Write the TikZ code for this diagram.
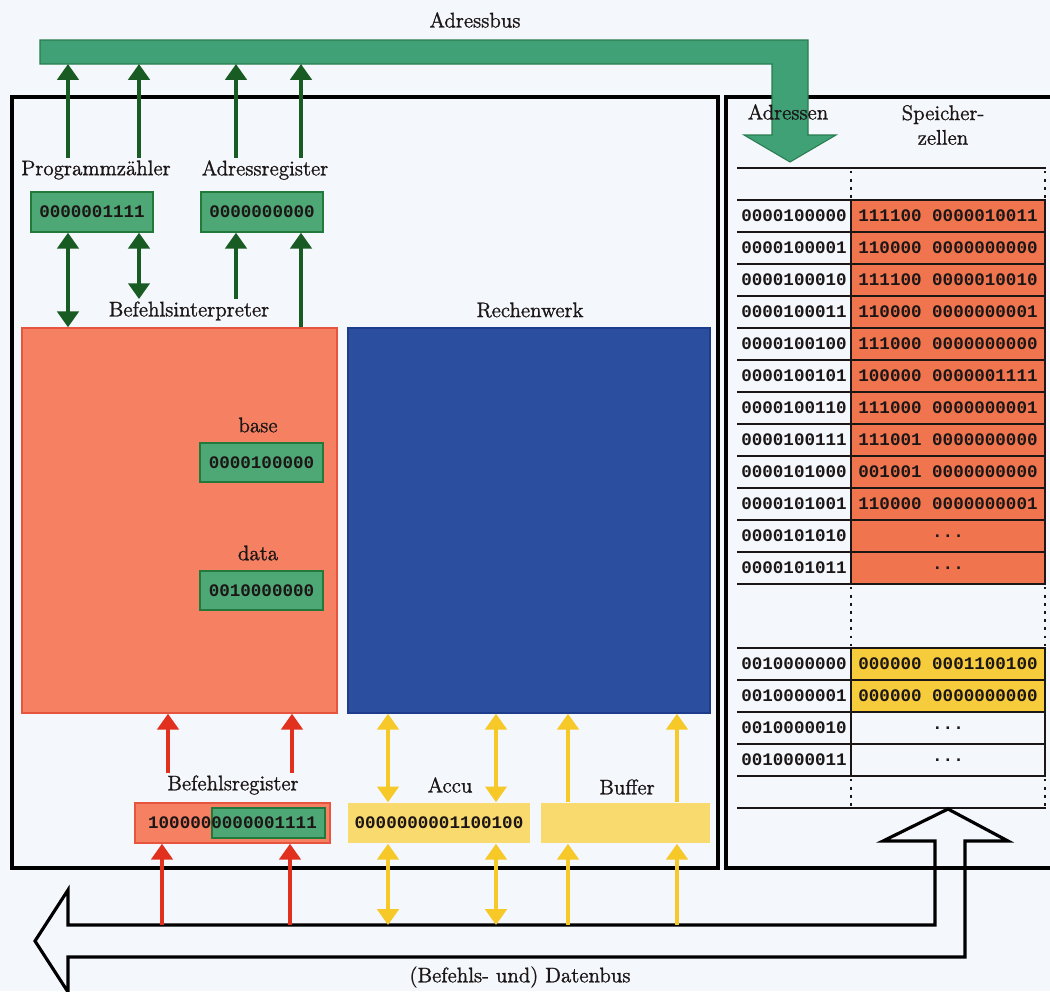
\documentclass[tikz,border=0pt]{standalone}
\usepackage{fontspec}
\setmonofont{Liberation Mono}
\newfontfamily\lblfont{lmroman12-regular}[Extension=.otf, FakeBold=1.2]
\usetikzlibrary{arrows.meta}

\definecolor{bgc}{RGB}{244,247,251}
\definecolor{busgreen}{RGB}{64,160,118}
\definecolor{busline}{RGB}{40,125,80}
\definecolor{reggreen}{RGB}{78,168,118}
\definecolor{regline}{RGB}{35,120,60}
\definecolor{arrgreen}{RGB}{24,92,36}
\definecolor{salmon}{RGB}{245,128,98}
\definecolor{salmonline}{RGB}{232,85,62}
\definecolor{arrred}{RGB}{226,48,30}
\definecolor{rwblue}{RGB}{44,78,158}
\definecolor{rwline}{RGB}{30,60,140}
\definecolor{accuyellow}{RGB}{249,218,110}
\definecolor{arryellow}{RGB}{246,200,40}
\definecolor{memorange}{RGB}{240,117,78}
\definecolor{memyellow}{RGB}{246,204,60}
\definecolor{txt}{RGB}{28,22,22}

\def\pxs{0.02}
\newlength\pxu
\setlength\pxu{0.02cm}
\newcommand\celldots{...}

\tikzset{
	lbl/.style={font=\fontsize{12}{14}\lblfont, text=txt, inner sep=1pt},
	bits/.style={font=\fontsize{10}{12}\selectfont\ttfamily\bfseries, text=txt, inner sep=0pt},
	reg/.style={bits, draw=regline, fill=reggreen, line width=0.8pt, minimum width=122\pxu, minimum height=40\pxu},
	unit/.style={minimum height=385\pxu, inner sep=0pt, line width=0.8pt},
	ybox/.style={bits, fill=accuyellow, minimum height=40\pxu},
	gArrow/.style={arrgreen, line width=2.6pt, -{Triangle[width=12pt,length=9pt]}},
	gArrows/.style={arrgreen, line width=2.6pt, {Triangle[width=12pt,length=9pt]}-{Triangle[width=12pt,length=9pt]}},
	rArrow/.style={arrred, line width=2.6pt, -{Triangle[width=12pt,length=9pt]}},
	yArrow/.style={arryellow, line width=2.4pt, -{Triangle[width=12pt,length=9pt]}},
	yArrows/.style={arryellow, line width=2.4pt, {Triangle[width=12pt,length=9pt]}-{Triangle[width=12pt,length=9pt]}},
	tbl/.style={line width=1.2pt, txt},
	tbldots/.style={line width=1.4pt, txt, dash pattern=on 1.4pt off 3.2pt}
}

\begin{document}
\begin{tikzpicture}[x=\pxs cm, y=-\pxs cm, thick]
	\clip (0,0) rectangle (1050,991);
	\fill[bgc] (0,0) rectangle (1050,991);
	
	% Rahmen CPU und Speicher
	\draw[line width=2.4pt] (12,97) rectangle (718,868);
	\draw[line width=2.4pt] (726,97) rectangle (1070,868);
	
	% Speicher
	\fill[memorange] (851,200) rectangle (1045,584);
	\fill[memyellow] (851,648) rectangle (1045,712);
	\foreach \y in {168,200,232,...,584} {\draw[tbl] (737,\y) -- (1046,\y);}
	\foreach \y in {648,680,...,808} {\draw[tbl] (737,\y) -- (1046,\y);}
	\foreach \x in {851,1045} {
		\draw[tbl] (\x,200) -- (\x,584);
		\draw[tbl] (\x,648) -- (\x,776);
		\draw[tbldots] (\x,171) -- (\x,200);
		\draw[tbldots] (\x,587) -- (\x,648);
		\draw[tbldots] (\x,779) -- (\x,808);
	}
	\foreach \y/\a/\c in {216/0000100000/111100 0000010011, 248/0000100001/110000 0000000000,
		280/0000100010/111100 0000010010, 312/0000100011/110000 0000000001,
		344/0000100100/111000 0000000000, 376/0000100101/100000 0000001111,
		408/0000100110/111000 0000000001, 440/0000100111/111001 0000000000,
		472/0000101000/001001 0000000000, 504/0000101001/110000 0000000001,
		536/0000101010/\celldots, 568/0000101011/\celldots,
		664/0010000000/000000 0001100100, 696/0010000001/000000 0000000000,
		728/0010000010/\celldots, 760/0010000011/\celldots} {
		\node[bits] (adr\y) at (794,\y) {\a};
		\node[bits] (cell\y) at (948,\y) {\c};
	}
	
	% Register und Werke
	\node[reg] (pc) at (92,212) {0000001111};
	\node[reg] (ar) at (262,212) {0000000000};
	\node[unit, fill=salmon, draw=salmonline, minimum width=315\pxu] (bi) at (179.5,520.5) {};
	\node[unit, fill=rwblue, draw=rwline, minimum width=362\pxu] (rw) at (529,520.5) {};
	\node[reg, minimum width=123\pxu, minimum height=39\pxu] (base) at (261.5,462.5) {0000100000};
	\node[reg, minimum width=123\pxu, minimum height=39\pxu] (data) at (261.5,590.5) {0010000000};
	\node[unit, fill=salmon, draw=salmonline, minimum width=195\pxu, minimum height=40\pxu] (br) at (232.5,823) {};
	\node[unit, fill=reggreen, draw=regline, minimum width=113\pxu, minimum height=30\pxu] (brlow) at (268.5,823) {};
	\node[bits] (brtext) at (br) {1000000000001111};
	\node[ybox, minimum width=182\pxu] (accu) at (439,823) {0000000001100100};
	\node[ybox, minimum width=169\pxu] (buf) at (625.5,823) {};
	
	\node[lbl] (pclabel) at (96,170) {Programmzähler};
	\node[lbl] (arlabel) at (265,170) {Adressregister};
	\node[lbl] (bilabel) at (189,311) {Befehlsinterpreter};
	\node[lbl] (rwlabel) at (530,310) {Rechenwerk};
	\node[lbl] (baselabel) at (258,425) {base};
	\node[lbl] (datalabel) at (258,553) {data};
	\node[lbl] (brlabel) at (233,785) {Befehlsregister};
	\node[lbl] (acculabel) at (450,785) {Accu};
	\node[lbl] (buflabel) at (627,787) {Buffer};
	
	% Adressbus
	\coordinate (abus) at (40,64);
	\draw[busline, fill=busgreen, line width=0.6pt] (40,40) -- (808,40) -- (808,135) -- (836,135) -- (790,162)
		-- (744,135) -- (772,135) -- (772,64) -- (abus) -- cycle;
	\node[lbl] (abuslabel) at (475,20) {Adressbus};
	\node[lbl] (adrlabel) at (788,112) {Adressen};
	\node[lbl, align=center] (celllabel) at (943,125) {Speicher-\\zellen};
	
	% Datenbus
	\coordinate (dbus) at (68,925);
	\draw[line width=1.8pt] (dbus) -- (935,925) -- (935,841) -- (883,841) -- (948,809) -- (1008,841)
		-- (965,841) -- (965,957) -- (68,957) -- (68,992) -- (35,941) -- (68,890) -- cycle;
	\node[lbl] (dbuslabel) at (520,977) {(Befehls- und) Datenbus};
	
	% Pfeile
	\foreach \x in {68,139} {\draw[gArrow] (\x,0 |- pclabel.north) -- (\x,0 |- abus);}
	\foreach \x in {236,301} {\draw[gArrow] (\x,0 |- arlabel.north) -- (\x,0 |- abus);}
	\draw[gArrows] (68,0 |- pc.south) -- (68,0 |- bi.north);
	\draw[gArrows] (139,0 |- pc.south) -- (139,0 |- bilabel.north);
	\draw[gArrow] (236,0 |- bilabel.north) -- (236,0 |- ar.south);
	\draw[gArrow] (301,0 |- bi.north) -- (301,0 |- ar.south);
	
	\foreach \x in {168,292} {\draw[rArrow] (\x,0 |- brlabel.north) -- (\x,0 |- bi.south);}
	\foreach \x in {162,290} {\draw[rArrow] (\x,0 |- dbus) -- (\x,0 |- br.south);}
	
	\foreach \x in {388,496} {
		\draw[yArrows] (\x,0 |- accu.north) -- (\x,0 |- rw.south);
		\draw[yArrows] (\x,0 |- accu.south) -- (\x,0 |- dbus);
	}
	\foreach \x in {568,677} {
		\draw[yArrow] (\x,0 |- buf.north) -- (\x,0 |- rw.south);
		\draw[yArrow] (\x,0 |- dbus) -- (\x,0 |- buf.south);
	}
\end{tikzpicture}
\end{document}
